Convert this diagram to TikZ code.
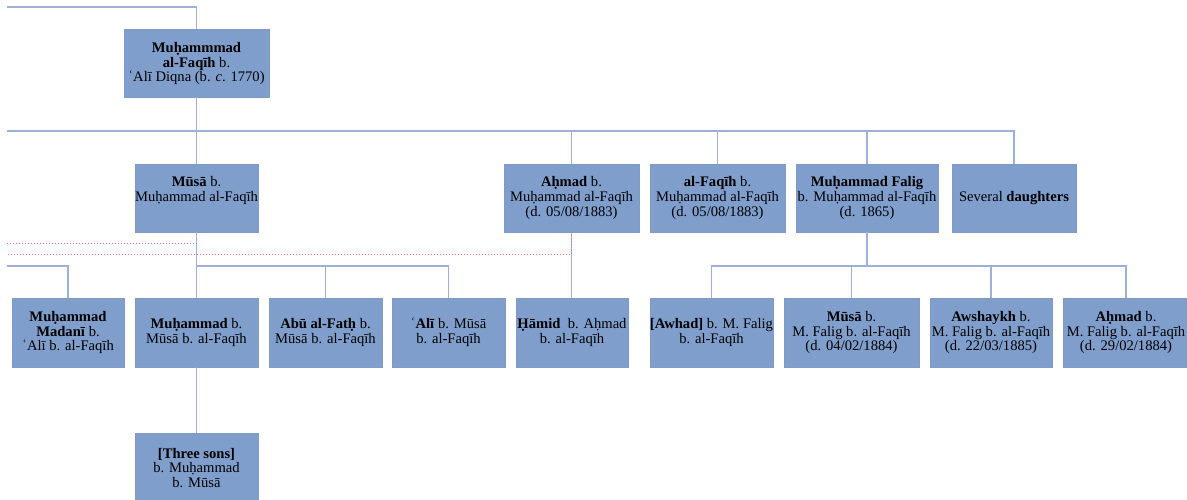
\documentclass[tikz,border=0pt]{standalone}
\usepackage{fontspec}
\setmainfont{Liberation Serif}
\usetikzlibrary{positioning, calc}
\definecolor{boxblue}{RGB}{127, 158, 204}
\definecolor{lineblue}{RGB}{158, 176, 216}
\definecolor{dotred}{RGB}{236, 120, 120}

\begin{document}
\begin{tikzpicture}[
            x=1pt, y=-1pt,
            person/.style={draw=boxblue!88!gray, line width=0.6pt, fill=boxblue, inner sep=0pt, outer sep=0pt, minimum height=68pt, align=center, font=\fontsize{14.6}{14.6}\selectfont},
            link/.style={draw=lineblue, line width=1.1pt},
            offlink/.style={draw=dotred, line width=1pt, dotted}
        ]
            \useasboundingbox (0,0) rectangle (1187,500);

            % generation 1
            \node[person, minimum width=145pt] (root) at (196.5,63.5) {\textbf{Muḥammmad}\\ \textbf{al-Faqīh} b.\\ ʿAlī Diqna (b. \textit{c}. 1770)};

            % generation 2
            \node[person, minimum width=123pt, text depth=18pt] (musa) at (196.5,198) {\textbf{Mūsā} b.\\ Muḥammad al-Faqīh};
            \node[person, minimum width=135pt] (ahmad) at (571.5,198) {\textbf{Aḥmad} b.\\ Muḥammad al-Faqīh\\ (d. 05/08/1883)};
            \node[person, minimum width=135pt] (faqih) at (717.5,198) {\textbf{al-Faqīh} b.\\ Muḥammad al-Faqīh\\ (d. 05/08/1883)};
            \node[person, minimum width=142pt] (falig) at (867,198) {\textbf{Muḥammad Falig}\\ b. Muḥammad al-Faqīh\\ (d. 1865)};
            \node[person, minimum width=124pt] (daughters) at (1014,198) {Several \textbf{daughters}};

            % generation 3
            \node[person, minimum width=112pt, minimum height=69pt] (madani) at (68,332.5) {\textbf{Muḥammad}\\ \textbf{Madanī} b.\\ ʿAlī b. al-Faqīh};
            \node[person, minimum width=123pt, minimum height=69pt] (muhammad) at (196.5,332.5) {\textbf{Muḥammad} b.\\ Mūsā b. al-Faqīh};
            \node[person, minimum width=113pt, minimum height=69pt] (abufath) at (325.5,332.5) {\textbf{Abū al-Fatḥ} b.\\ Mūsā b. al-Faqīh};
            \node[person, minimum width=113pt, minimum height=69pt] (ali) at (448.5,332.5) {ʿ\textbf{Alī} b. Mūsā\\ b. al-Faqīh};
            \node[person, minimum width=112pt, minimum height=69pt] (hamid) at (572,332.5) {\textbf{Ḥāmid}\ \ b. Aḥmad\\ b. al-Faqīh};
            \node[person, minimum width=123pt, minimum height=69pt] (awhad) at (711.5,332.5) {\textbf{[Awhad]} b. M. Falig\\ b. al-Faqīh};
            \node[person, minimum width=135pt, minimum height=69pt] (musab) at (851.5,332.5) {\textbf{Mūsā} b.\\ M. Falig b. al-Faqīh\\ (d. 04/02/1884)};
            \node[person, minimum width=122pt, minimum height=69pt] (awshaykh) at (991,332.5) {\textbf{Awshaykh} b.\\ M. Falig b. al-Faqīh\\ (d. 22/03/1885)};
            \node[person, minimum width=126pt, minimum height=69pt] (ahmadb) at (1126,332.5) {\textbf{Aḥmad} b.\\ M. Falig b. al-Faqīh\\ (d. 29/02/1884)};

            % generation 4
            \node[person, minimum width=123pt, minimum height=70pt] (threesons) at (196.5,468) {\textbf{[Three sons]}\\ b. Muḥammad\\ b. Mūsā};

            % joints running off the page
            \coordinate (topL) at (7,7);
            \coordinate (barA) at (7,131);
            \coordinate (barB) at (7,266);
            \coordinate (redA) at (7,243);
            \coordinate (redB) at (7,254);

            \draw[link] (topL) -| (root.north);
            \draw[link] (root.south) -- (musa.north);
            \draw[link] (barA) -| (daughters.north);
            \foreach \n in {ahmad, faqih, falig}
                \draw[link] (\n.north) -- (\n.north |- barA);

            \draw[link] (musa.south) -- (muhammad.north);
            \draw[link] (musa.south |- barB) -| (ali.north);
            \draw[link] (abufath.north) -- (abufath.north |- barB);
            \draw[link] (barB) -| (madani.north);
            \draw[link] (muhammad.south) -- (threesons.north);

            \draw[link] (ahmad.south) -- (ahmad.south |- hamid.north);

            \draw[link] (falig.south) -- (falig.south |- barB);
            \draw[link] (awhad.north) -- (awhad.north |- barB) -| (ahmadb.north);
            \foreach \n in {musab, awshaykh}
                \draw[link] (\n.north) -- (\n.north |- barB);

            \draw[offlink] (redA) -- (musa.south |- redA);
            \draw[offlink] (ahmad.south) |- (redB);
        \end{tikzpicture}
\end{document}
